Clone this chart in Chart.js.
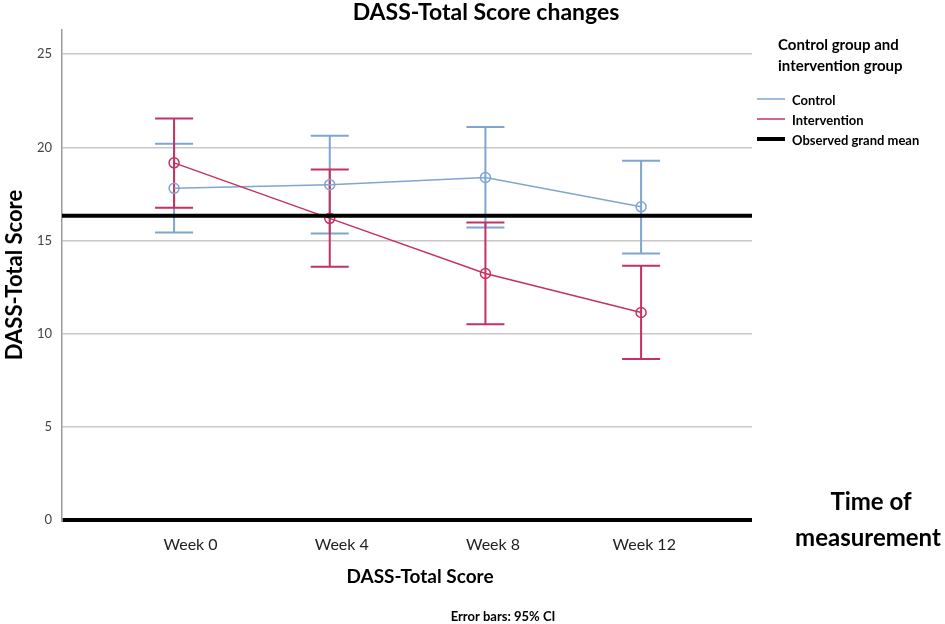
<!DOCTYPE html>
<html lang="en">
    <head>
        <meta charset="UTF-8" />
        <title>DASS-Total Score changes</title>
        <script src="https://cdn.jsdelivr.net/npm/chart.js"></script>
        <style>
            html, body { margin: 0; padding: 0; background: #fff; }
            #wrap { width: 945px; height: 624px; }
        </style>
    </head>
    <body>
        <div id="wrap"><canvas id="chartDass"></canvas></div>

        <script>
            // data
            const weeks = [0, 4, 8, 12];
            const weekLabels = ["Week 0", "Week 4", "Week 8", "Week 12"];
            const controlMean = [17.8, 18.0, 18.38, 16.81];
            const controlLow = [15.43, 15.38, 15.7, 14.31];
            const controlHigh = [20.2, 20.62, 21.1, 19.28];
            const interventionMean = [19.17, 16.19, 13.23, 11.14];
            const interventionLow = [16.76, 13.59, 10.5, 8.64];
            const interventionHigh = [21.55, 18.81, 15.97, 13.64];
            const grandMean = 16.33;
            const yTicks = [0, 5, 10, 15, 20, 25];

            const xMin = -2.88;
            const xMax = 14.85;
            // the week labels in the original sit a bit off the points
            const labelMin = -3.4;
            const labelMax = 14.85;
            const blue = "#7ea6cf";
            const red = "#c5325f";
            const font = "Lato, 'Open Sans', sans-serif";

            const pts = (arr) => arr.map((v, i) => ({ x: weeks[i], y: v }));

            // error bars drawn with the chart's own scales
            const errorBars = {
                id: "errorBars",
                beforeDatasetsDraw(chart) {
                    const { ctx, scales: { x, y } } = chart;
                    const groups = [
                        { lo: controlLow, hi: controlHigh, color: blue },
                        { lo: interventionLow, hi: interventionHigh, color: red },
                    ];
                    ctx.save();
                    ctx.lineWidth = 2;
                    groups.forEach((g) => {
                        ctx.strokeStyle = g.color;
                        weeks.forEach((w, i) => {
                            const px = x.getPixelForValue(w);
                            const top = y.getPixelForValue(g.hi[i]);
                            const bot = y.getPixelForValue(g.lo[i]);
                            ctx.beginPath();
                            ctx.moveTo(px, top);
                            ctx.lineTo(px, bot);
                            ctx.moveTo(px - 19, top);
                            ctx.lineTo(px + 19, top);
                            ctx.moveTo(px - 19, bot);
                            ctx.lineTo(px + 19, bot);
                            ctx.stroke();
                        });
                    });
                    ctx.restore();
                },
            };

            // titles, legend and side notes
            const extraText = {
                id: "extraText",
                afterDraw(chart) {
                    const { ctx } = chart;
                    ctx.save();
                    ctx.fillStyle = "#000";
                    ctx.textBaseline = "middle";

                    ctx.textAlign = "center";
                    ctx.font = "bold 23px " + font;
                    ctx.fillText("DASS-Total Score changes", 486, 13);

                    ctx.font = "bold 19px " + font;
                    ctx.fillText("DASS-Total Score", 420, 577);
                    ctx.font = "bold 13px " + font;
                    ctx.fillText("Error bars: 95% CI", 503, 617);

                    ctx.font = "bold 24px " + font;
                    ctx.fillText("Time of", 871, 502);
                    ctx.fillText("measurement", 868, 538);

                    // legend
                    ctx.textAlign = "left";
                    ctx.font = "bold 15px " + font;
                    ctx.fillText("Control group and", 778, 45);
                    ctx.fillText("intervention group", 778, 66);

                    const items = [
                        { label: "Control", color: blue, width: 1.5, y: 99 },
                        { label: "Intervention", color: red, width: 1.5, y: 119 },
                        { label: "Observed grand mean", color: "#000", width: 4, y: 139 },
                    ];
                    ctx.font = "bold 13px " + font;
                    items.forEach((it) => {
                        ctx.strokeStyle = it.color;
                        ctx.lineWidth = it.width;
                        ctx.beginPath();
                        ctx.moveTo(757, it.y);
                        ctx.lineTo(785, it.y);
                        ctx.stroke();
                        ctx.fillText(it.label, 792, it.y + 2);
                    });
                    ctx.restore();
                },
            };

            new Chart(document.getElementById("chartDass"), {
                type: "line",
                data: {
                    datasets: [
                        {
                            label: "Observed grand mean",
                            data: [
                                { x: xMin, y: grandMean },
                                { x: xMax, y: grandMean },
                            ],
                            borderColor: "#000",
                            borderWidth: 4,
                            pointRadius: 0,
                            order: 0,
                        },
                        {
                            label: "Control",
                            data: pts(controlMean),
                            borderColor: blue,
                            borderWidth: 1.5,
                            pointRadius: 5,
                            pointBorderWidth: 1.5,
                            pointBorderColor: blue,
                            pointBackgroundColor: "rgba(255,255,255,0)",
                            order: 2,
                        },
                        {
                            label: "Intervention",
                            data: pts(interventionMean),
                            borderColor: red,
                            borderWidth: 1.5,
                            pointRadius: 5,
                            pointBorderWidth: 1.5,
                            pointBorderColor: red,
                            pointBackgroundColor: "rgba(255,255,255,0)",
                            order: 1,
                        },
                    ],
                },
                options: {
                    responsive: true,
                    maintainAspectRatio: false,
                    animation: false,
                    layout: { padding: { top: 30, right: 193, left: 0, bottom: 0 } },
                    plugins: {
                        legend: { display: false },
                        tooltip: { enabled: false },
                    },
                    scales: {
                        x: {
                            type: "linear",
                            display: false,
                            min: xMin,
                            max: xMax,
                        },
                        xLabels: {
                            type: "linear",
                            position: "bottom",
                            min: labelMin,
                            max: labelMax,
                            afterBuildTicks: (s) => {
                                s.ticks = weeks.map((w) => ({ value: w }));
                            },
                            afterFit: (s) => {
                                s.height = 104;
                            },
                            grid: { display: false, drawTicks: false },
                            border: { display: false },
                            ticks: {
                                padding: 15,
                                color: "#222",
                                font: { family: font, size: 16 },
                                callback: (v) => weekLabels[weeks.indexOf(v)],
                            },
                        },
                        y: {
                            min: 0,
                            max: 26.3,
                            afterBuildTicks: (s) => {
                                s.ticks = yTicks.map((v) => ({ value: v }));
                            },
                            afterFit: (s) => {
                                s.width = 62;
                            },
                            grid: {
                                drawTicks: false,
                                color: (c) => (c.tick && c.tick.value === 0 ? "#000" : "#c8c8c8"),
                                lineWidth: (c) => (c.tick && c.tick.value === 0 ? 4 : 1.5),
                            },
                            border: { display: true, color: "#9a9a9a", width: 1.5 },
                            ticks: {
                                padding: 10,
                                color: "#444",
                                font: { family: font, size: 13 },
                            },
                            title: {
                                display: true,
                                text: "DASS-Total Score",
                                color: "#000",
                                font: { family: font, size: 22, weight: "bold" },
                                padding: { top: 2, bottom: 0 },
                            },
                        },
                    },
                },
                plugins: [errorBars, extraText],
            });
        </script>
    </body>
</html>
